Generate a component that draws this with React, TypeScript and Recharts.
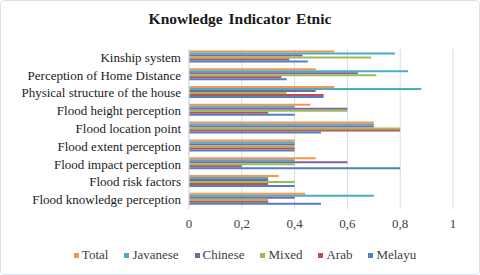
import { BarChart, Bar, XAxis, YAxis, CartesianGrid, Legend } from "recharts";

const categories = [
  "Kinship system",
  "Perception of Home Distance",
  "Physical structure of the house",
  "Flood height perception",
  "Flood location point",
  "Flood extent perception",
  "Flood impact perception",
  "Flood risk factors",
  "Flood knowledge perception",
];

const total = [0.55, 0.48, 0.55, 0.46, 0.7, 0.4, 0.48, 0.34, 0.44];
const javanese = [0.78, 0.83, 0.88, 0.4, 0.7, 0.4, 0.4, 0.3, 0.7];
const chinese = [0.43, 0.64, 0.48, 0.6, 0.7, 0.4, 0.6, 0.3, 0.4];
const mixed = [0.69, 0.71, 0.37, 0.6, 0.8, 0.4, 0.4, 0.4, 0.3];
const arab = [0.38, 0.35, 0.51, 0.3, 0.8, 0.4, 0.2, 0.3, 0.3];
const melayu = [0.45, 0.37, 0.51, 0.4, 0.5, 0.4, 0.8, 0.4, 0.5];

const xTicks = [0, 0.2, 0.4, 0.6, 0.8, 1];

const series = [
  { key: "Total", color: "#F79646" },
  { key: "Javanese", color: "#4BACC6" },
  { key: "Chinese", color: "#8064A2" },
  { key: "Mixed", color: "#9BBB59" },
  { key: "Arab", color: "#C0504D" },
  { key: "Melayu", color: "#4F81BD" },
];

const data = categories.map((name, i) => ({
  name,
  Total: total[i],
  Javanese: javanese[i],
  Chinese: chinese[i],
  Mixed: mixed[i],
  Arab: arab[i],
  Melayu: melayu[i],
}));

const font = "Liberation Serif, serif";
const grid = "#d3ddeb";

const CatTick = (props: any) => {
  const { x, y, payload } = props;
  return (
    <text x={x} y={y} dy={4} textAnchor="end" fontFamily={font} fontSize={13} fill="#1a1a1a">
      {payload.value}
    </text>
  );
};

const NumTick = (props: any) => {
  const { x, y, payload } = props;
  return (
    <text x={x} y={y} dy={11} textAnchor="middle" fontFamily={font} fontSize={13} fill="#404040">
      {String(payload.value).replace(".", ",")}
    </text>
  );
};

const renderLegend = () => (
  <div
    style={{
      display: "flex",
      justifyContent: "center",
      gap: 16,
      fontFamily: font,
      fontSize: 13,
      color: "#404040",
      height: 20,
      lineHeight: "20px",
      paddingLeft: 36,
    }}
  >
    {series.map((s) => (
      <span key={s.key} style={{ display: "flex", alignItems: "center" }}>
        <span style={{ width: 5, height: 5, background: s.color, marginRight: 3 }} />
        {s.key}
      </span>
    ))}
  </div>
);

export default function App() {
  return (
    <div
      style={{
        position: "absolute",
        left: 0,
        top: 0,
        width: 478,
        height: 273,
        border: "1px solid #d9e1ec",
        borderRadius: 4,
        background: "#fff",
      }}
    >
      <div
        style={{
          position: "absolute",
          top: 9,
          width: "100%",
          textAlign: "center",
          fontFamily: font,
          fontWeight: "bold",
          fontSize: 15.5,
          wordSpacing: 2,
          color: "#1a1a1a",
        }}
      >
        Knowledge Indicator Etnic
      </div>
      <BarChart
        width={478}
        height={273}
        data={data}
        layout="vertical"
        margin={{ top: 48, right: 26, left: 0, bottom: 9 }}
        barCategoryGap={1.5}
        barGap={0}
      >
        <CartesianGrid horizontal={false} stroke={grid} />
        <XAxis
          type="number"
          domain={[0, 1]}
          ticks={xTicks}
          axisLine={false}
          tickLine={false}
          height={36}
          tick={<NumTick />}
        />
        <YAxis
          type="category"
          dataKey="name"
          width={188}
          axisLine={{ stroke: grid }}
          tickLine={false}
          interval={0}
          tick={<CatTick />}
        />
        <Legend verticalAlign="bottom" content={renderLegend} />
        {series.map((s) => (
          <Bar key={s.key} dataKey={s.key} fill={s.color} isAnimationActive={false} />
        ))}
      </BarChart>
    </div>
  );
}
